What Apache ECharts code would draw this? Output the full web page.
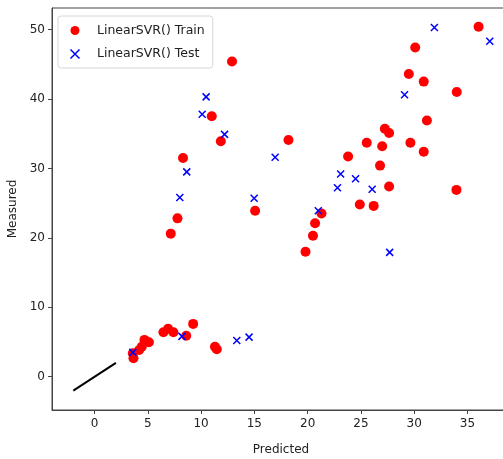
<!DOCTYPE html>
<html>
<head>
<meta charset="utf-8">
<script src="https://cdn.jsdelivr.net/npm/echarts@6/dist/echarts.min.js"></script>
<style>
  html, body { margin: 0; padding: 0; background: #fff; }
  #main { width: 503px; height: 459px; }
</style>
</head>
<body>
<div id="main"></div>
<script>
// train points (predicted, measured)
var trainPredicted = [36.05, 30.1, 29.5, 30.9, 34.0, 31.2, 12.9, 11.0, 11.85, 8.3, 18.2,
  27.25, 27.65, 25.55, 27.0, 29.65, 30.9, 23.8, 26.8, 27.65, 33.97, 24.9, 26.2,
  21.3, 20.7, 20.5, 19.8, 15.07, 7.78, 7.15,
  3.59, 3.65, 4.18, 4.43, 4.68, 5.1, 6.46, 6.9, 7.4, 8.6, 9.25, 11.3, 11.47]
var trainMeasured = [50.4, 47.4, 43.6, 42.5, 41.0, 36.9, 45.4, 37.5, 33.9, 31.5, 34.1,
  35.7, 35.1, 33.7, 33.2, 33.7, 32.4, 31.7, 30.4, 27.4, 26.9, 24.8, 24.6,
  23.5, 22.1, 20.3, 18.0, 23.9, 22.8, 20.6,
  3.37, 2.65, 3.85, 4.3, 5.3, 4.95, 6.4, 6.9, 6.4, 5.9, 7.6, 4.3, 3.95]

// test points
var testPredicted = [31.9, 37.1, 29.1, 10.47, 10.1, 12.2, 16.95, 8.65, 8.0, 14.98, 21.0,
  23.1, 22.8, 24.5, 26.06, 27.7, 3.59, 8.2, 13.35, 14.5]
var testMeasured = [50.3, 48.3, 40.6, 40.3, 37.8, 34.9, 31.6, 29.5, 25.8, 25.7, 23.9,
  29.2, 27.2, 28.5, 27.0, 17.9, 3.5, 5.8, 5.2, 5.7]

// black reference segment
var lineX = [-2, 2]
var lineY = [-2, 2]

var xTicks = [0, 5, 10, 15, 20, 25, 30, 35]
var yTicks = [0, 10, 20, 30, 40, 50]

function pairs(xs, ys) {
  return xs.map(function (x, i) { return [x, ys[i]] })
}

var crossPath = 'path://M0,0L10,10M10,0L0,10'
var axisColor = '#444'
var textColor = '#222'
var font = 'DejaVu Sans'

var dom = document.getElementById('main')
var myChart = echarts.init(dom)
var option = {
  animation: false,
  textStyle: { fontFamily: font },
  grid: {
    left: 52,
    top: 8,
    right: -7,
    bottom: 49,
    containLabel: false,
    outerBoundsMode: 'none',
    show: true,
    borderColor: axisColor,
    borderWidth: 1
  },
  legend: {
    left: 58,
    top: 16,
    orient: 'vertical',
    padding: [8, 8, 7, 10],
    itemGap: 10,
    itemWidth: 18,
    itemHeight: 9,
    borderColor: '#d6d6d6',
    borderWidth: 1,
    borderRadius: 3,
    textStyle: { fontFamily: font, fontSize: 12.5, color: textColor, padding: [0, 0, 0, 8] },
    data: [
      { name: 'LinearSVR() Train', icon: 'circle', itemStyle: { color: '#ff0000' } },
      { name: 'LinearSVR() Test', icon: crossPath,
        itemStyle: { color: 'none', borderColor: '#0000ff', borderWidth: 1.5 } }
    ]
  },
  xAxis: {
    type: 'value',
    min: -4,
    max: 39,
    name: 'Predicted',
    nameLocation: 'middle',
    nameGap: 34,
    nameTextStyle: { fontFamily: font, fontSize: 12, color: textColor },
    axisLine: { show: true, onZero: false, lineStyle: { color: axisColor } },
    axisTick: { show: true, length: 4, customValues: xTicks, lineStyle: { color: axisColor } },
    axisLabel: { customValues: xTicks, margin: 8, fontFamily: font, fontSize: 12, color: textColor },
    splitLine: { show: false }
  },
  yAxis: {
    type: 'value',
    min: -4.8,
    max: 53.1,
    name: 'Measured',
    nameLocation: 'middle',
    nameGap: 32,
    nameTextStyle: { fontFamily: font, fontSize: 12, color: textColor },
    axisLine: { show: true, onZero: false, lineStyle: { color: axisColor } },
    axisTick: { show: true, length: 4, customValues: yTicks, lineStyle: { color: axisColor } },
    axisLabel: { customValues: yTicks, margin: 7, fontFamily: font, fontSize: 12, color: textColor },
    splitLine: { show: false }
  },
  series: [
    {
      name: 'identity',
      type: 'line',
      data: pairs(lineX, lineY),
      symbol: 'none',
      lineStyle: { color: '#000', width: 2 },
      silent: true
    },
    {
      name: 'LinearSVR() Train',
      type: 'scatter',
      data: pairs(trainPredicted, trainMeasured),
      symbol: 'circle',
      symbolSize: 10,
      itemStyle: { color: '#ff0000', opacity: 1 }
    },
    {
      name: 'LinearSVR() Test',
      type: 'scatter',
      data: pairs(testPredicted, testMeasured),
      symbol: crossPath,
      symbolSize: 7,
      itemStyle: { color: 'none', borderColor: '#0000ff', borderWidth: 1.5, opacity: 1 }
    }
  ]
}
if (option && typeof option === 'object') {
  myChart.setOption(option, true)
}
</script>
</body>
</html>
